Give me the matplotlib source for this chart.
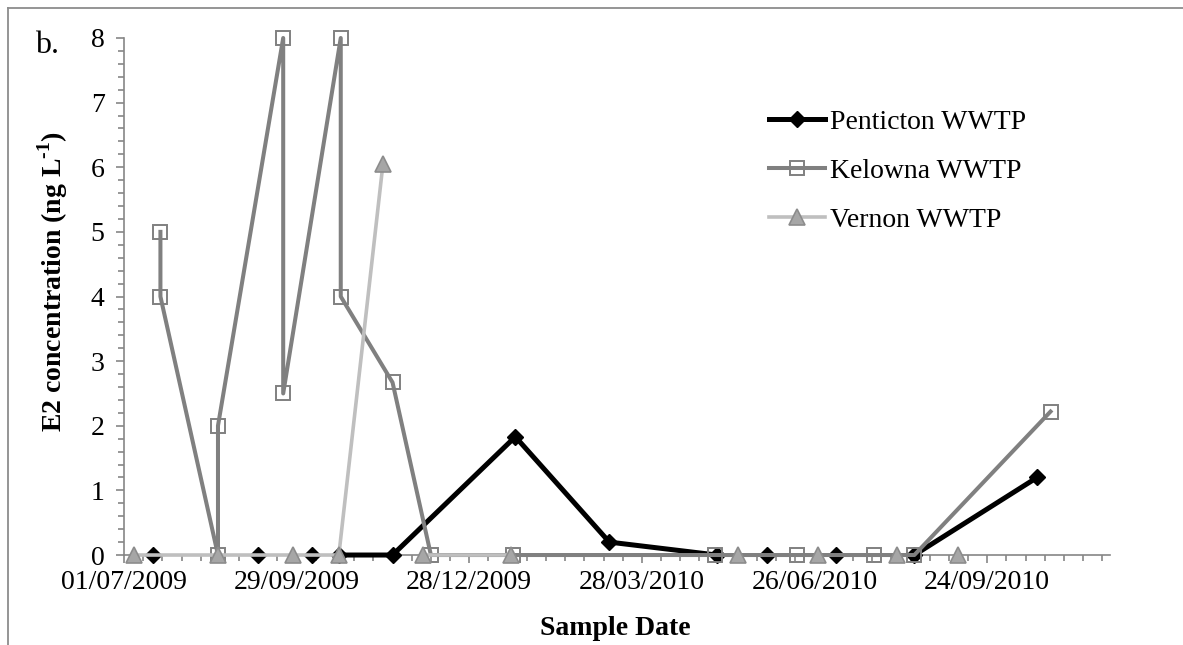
import numpy as np
import pandas as pd
import matplotlib
matplotlib.use("Agg")
import matplotlib.pyplot as plt
import matplotlib.dates as mdates
from matplotlib.lines import Line2D
from matplotlib.ticker import MultipleLocator

plt.rcParams['font.family'] = ['Liberation Serif', 'DejaVu Serif']
plt.rcParams['mathtext.fontset'] = 'custom'
plt.rcParams['mathtext.rm'] = 'Liberation Serif'
plt.rcParams['mathtext.bf'] = 'Liberation Serif:bold'

nan = np.nan

# E2 (ng/L) por planta; nan = sin dato (corta la linea)
pent_fecha = ['2009-07-16', '2009-07-16', '2009-09-09', '2009-09-09', '2009-10-07', '2009-10-07',
              '2009-10-21', '2009-11-18', '2010-01-21', '2010-03-11', '2010-05-06', '2010-05-06',
              '2010-06-01', '2010-06-01', '2010-07-07', '2010-07-07', '2010-08-17', '2010-10-20']
pent_e2 = [0, nan, 0, nan, 0, nan,
           0, 0, 1.83, 0.2, 0, nan,
           0, nan, 0, nan, 0, 1.2]

kel_fecha = ['2009-07-20', '2009-07-20', '2009-08-19', '2009-08-19', '2009-09-22', '2009-09-22',
             '2009-10-22', '2009-10-22', '2009-11-18', '2009-12-08', '2010-01-20', '2010-05-05',
             '2010-06-17', '2010-07-27', '2010-08-17', '2010-10-27']
kel_e2 = [5, 4, 0, 2, 8, 2.5,
          8, 4, 2.67, 0, 0, 0,
          0, 0, 0, 2.22]

ver_fecha = ['2009-07-06', '2009-08-19', '2009-09-27', '2009-10-21', '2009-11-13', '2009-11-13',
             '2009-12-04', '2010-01-19', '2010-01-19', '2010-05-17', '2010-05-17', '2010-06-28',
             '2010-06-28', '2010-08-08', '2010-08-08', '2010-09-09']
ver_e2 = [0, 0, 0, 0, 6.05, nan,
          0, 0, nan, 0, nan, 0,
          nan, 0, nan, 0]

fig = plt.figure(figsize=(11.83, 6.45), dpi=100)
ax = fig.add_axes([0.1048, 0.1395, 0.8335, 0.8016])

ax.plot(pd.to_datetime(pent_fecha), pent_e2, color='black', lw=3.6, marker='D', ms=8,
        mfc='black', mec='black', label='Penticton WWTP', zorder=3, clip_on=False)
ax.plot(pd.to_datetime(kel_fecha), kel_e2, color='#808080', lw=2.9, marker='s', ms=9.5,
        mfc='none', mec='#808080', mew=1.4, label='Kelowna WWTP', zorder=4, clip_on=False)
ax.plot(pd.to_datetime(ver_fecha), ver_e2, color='#bfbfbf', lw=2.6, marker='^', ms=11,
        mfc='#a6a6a6', mec='#8c8c8c', mew=1.2, label='Vernon WWTP', zorder=5, clip_on=False)

inicio = pd.Timestamp('2009-07-01')
ax.set_xlim(inicio, pd.Timestamp('2010-11-27'))
ax.set_ylim(0, 8)
ax.set_xticks(pd.date_range(inicio, periods=6, freq='90D'))
ax.set_xticks(pd.date_range(inicio, '2010-11-27', freq='10D'), minor=True)
ax.xaxis.set_major_formatter(mdates.DateFormatter('%d/%m/%Y'))
ax.yaxis.set_major_locator(MultipleLocator(1))
ax.yaxis.set_minor_locator(MultipleLocator(0.2))

for s in ['top', 'right']:
    ax.spines[s].set_visible(False)
for s in ['left', 'bottom']:
    ax.spines[s].set_color('#868686')
    ax.spines[s].set_linewidth(1.2)
ax.tick_params(which='both', direction='out', color='#868686', width=1.2, labelsize=20)
ax.tick_params(which='major', length=6)
ax.tick_params(which='minor', length=4)
ax.tick_params(axis='x', pad=5)
ax.tick_params(axis='y', pad=8)

# superindice con guion (U+2010) en vez del signo menos de mathtext
ax.set_ylabel('E2 concentration (ng L$^{\\mathbf{\u20101}}$)', fontsize=20, fontweight='bold')
ax.yaxis.set_label_coords(-0.055, 0.53)
ax.set_xlabel('Sample Date', fontsize=20, fontweight='bold', va='top')
ax.xaxis.set_label_coords(0.498, -0.118)

ax.legend(loc='upper left', bbox_to_anchor=(0.629, 0.869), bbox_transform=fig.transFigure,
          frameon=False, fontsize=20, handlelength=2.0, handletextpad=0.18, labelspacing=0.85)

fig.text(0.03, 0.93, 'b.', fontsize=23, ha='left', va='center')

# marco exterior
fig.add_artist(Line2D([8 / 1183, 8 / 1183], [0, 1 - 8 / 645], color='#8c8c8c', lw=1.3))
fig.add_artist(Line2D([8 / 1183, 1], [1 - 8 / 645, 1 - 8 / 645], color='#8c8c8c', lw=1.3))

fig.savefig('out.png', dpi=100)
